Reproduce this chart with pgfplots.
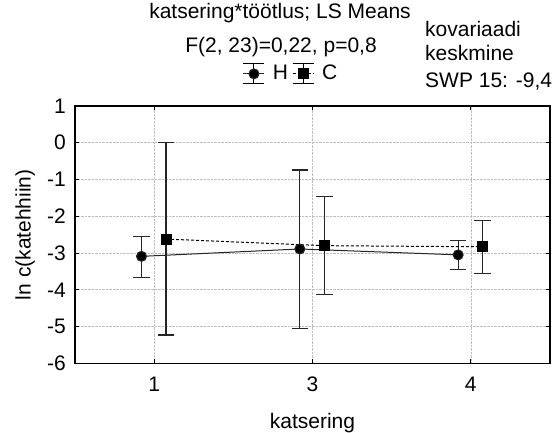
\documentclass[border=0pt]{standalone}
\usepackage{fontspec}
\setmainfont{Liberation Sans}
\usepackage{pgfplots}
\usepackage{pgfplotstable}
\pgfplotsset{compat=1.18}

\pgfplotstableread{
x y ep em
-0.08 -3.09 0.55 0.57
0.92 -2.89 2.15 2.17
1.92 -3.05 0.40 0.41
}\dataH
\pgfplotstableread{
x y ep em
0.075 -2.62 2.62 2.61
1.075 -2.80 1.34 1.33
2.075 -2.83 0.71 0.72
}\dataC

\begin{document}
\fontsize{21}{25}\selectfont
\begin{tikzpicture}
\useasboundingbox (0,0) rectangle (557pt,432pt);
\begin{axis}[
    at={(75pt,68.7pt)}, anchor=south west,
    width=475pt, height=257.3pt, scale only axis,
    xmin=-0.5, xmax=2.5, ymin=-6, ymax=1,
    xtick={0,1,2}, xticklabels={1,3,4},
    ytick={-6,-5,-4,-3,-2,-1,0,1},
    yticklabels={-6,-5,-4,-3,-2,-1,0,1},
    tick pos=both, tick align=inside, major tick length=4pt,
    tick style={black, line width=0.8pt},
    grid=major, grid style={densely dotted, gray!50, line width=0.6pt},
    axis line style={line width=1.1pt},
    xlabel=katsering, ylabel={ln c(katehhiin)},
    xlabel style={at={(axis description cs:0.5,-0.2515)}, anchor=base},
    ylabel style={at={(axis description cs:-0.105,0.5)}, anchor=center},
    xticklabel style={anchor=base, yshift=-28pt},
    yticklabel style={anchor=east, xshift=-2pt},
    legend style={at={(axis description cs:0.455,1.125)}, anchor=center,
        draw=none, fill=none, legend columns=-1,
        /tikz/every odd column/.append style={column sep=6pt},
        /tikz/every even column/.append style={column sep=2pt}},
    legend image code/.code={
        \draw[black, solid, line width=1pt] (0pt,10pt) -- (21pt,10pt)
            (0pt,-10pt) -- (21pt,-10pt) (10.5pt,-10pt) -- (10.5pt,10pt);
        \draw[mark repeat=2, mark phase=2, #1] plot coordinates {(0pt,0pt) (10.5pt,0pt) (21pt,0pt)};
    },
    error bars/error bar style={solid, line width=1.1pt, black!85},
    error bars/error mark options={rotate=90, mark size=8.3pt, line width=1.1pt, black!85},
]
\addplot[black!85, line width=1pt, mark=*, mark size=5pt, mark options={solid, fill=black},
    error bars/.cd, y dir=both, y explicit]
    table[x=x, y=y, y error plus=ep, y error minus=em] {\dataH};
\addlegendentry{H}
\addplot[black, line width=1pt, dash pattern=on 3pt off 2pt, mark=square*, mark size=5pt,
    mark options={solid, fill=black},
    error bars/.cd, y dir=both, y explicit]
    table[x=x, y=y, y error plus=ep, y error minus=em] {\dataC};
\addlegendentry{C}
\end{axis}
\node[anchor=base, inner sep=0pt] at (280pt,413pt) {katsering*töötlus; LS Means};
\node[anchor=base, inner sep=0pt] at (281pt,379pt) {F(2, 23)=0,22, p=0,8};
\node[anchor=base west, inner sep=0pt] at (425pt,395pt) {kovariaadi};
\node[anchor=base west, inner sep=0pt] at (425pt,371pt) {keskmine};
\node[anchor=base west, inner sep=0pt] at (425pt,344pt) {SWP 15: -9,4};
\end{tikzpicture}
\end{document}
